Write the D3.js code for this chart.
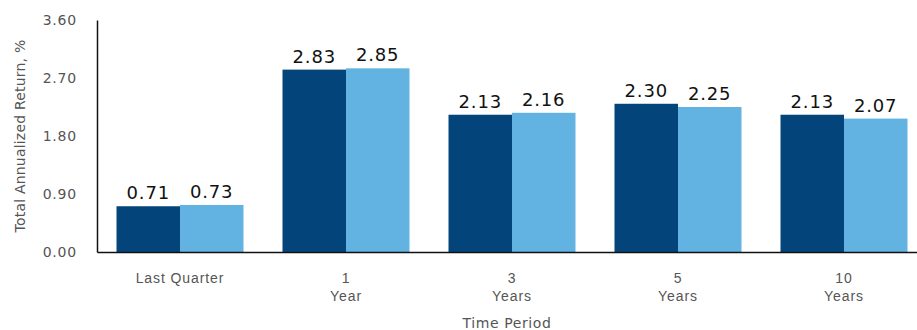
<!DOCTYPE html>
<html><head><meta charset="utf-8">
<script src="https://cdn.jsdelivr.net/npm/d3@7"></script>
<style>body{margin:0;background:#fff}svg{display:block;font-family:"DejaVu Sans",sans-serif}</style>
</head><body><svg id="c" width="917" height="330"></svg>
<script>
const categories = [["Last Quarter"], ["1","Year"], ["3","Years"], ["5","Years"], ["10","Years"]];
const seriesA = [0.71, 2.83, 2.13, 2.30, 2.13];
const seriesB = [0.73, 2.85, 2.16, 2.25, 2.07];
const yTicks = [0, 0.9, 1.8, 2.7, 3.6];
const colors = ["#03457a", "#62b2e2"];

const svg = d3.select("#c");
const x0 = 97, y0 = 252, yTop = 20;
const keys = categories.map((c,i)=>i);
const x = d3.scaleBand().domain(keys).range([x0, 927]).paddingInner(0.235).paddingOuter(0.1175);
const x1 = d3.scaleBand().domain([0,1]).range([0, x.bandwidth()]);
const y = d3.scaleLinear().domain([0, 3.6]).range([y0, yTop]);

const series = [seriesA, seriesB];
series.forEach((s, si) => {
  svg.append("g").selectAll("rect").data(s).join("rect")
    .attr("x", (d,i)=>x(i)+x1(si))
    .attr("y", d=>y(d))
    .attr("width", x1.bandwidth())
    .attr("height", d=>y0-y(d))
    .attr("fill", colors[si]);
  svg.append("g").selectAll("text").data(s).join("text")
    .attr("x", (d,i)=>x(i)+x1(si)+x1.bandwidth()/2)
    .attr("y", d=>y(d)-7)
    .attr("text-anchor","middle")
    .attr("font-size", 18)
    .attr("letter-spacing", 0.8)
    .attr("fill","#111")
    .text(d=>d.toFixed(2));
});

// y axis
const yAxis = d3.axisLeft(y).tickValues(yTicks).tickFormat(d3.format(".2f")).tickSize(0).tickPadding(20);
const gy = svg.append("g").attr("transform",`translate(${x0},0)`).call(yAxis);
gy.select(".domain").attr("stroke","#111").attr("stroke-width",1.5);
gy.selectAll("text").attr("font-size",14).attr("letter-spacing",0.8).attr("fill","#555").attr("font-family","DejaVu Sans, sans-serif");

// x axis
const xAxis = d3.axisBottom(x).tickSize(0).tickFormat(()=>"");
const gx = svg.append("g").attr("transform",`translate(0,${y0})`).call(xAxis);
gx.select(".domain").attr("stroke","#111").attr("stroke-width",1.5);
gx.selectAll(".tick").each(function(d){
  const t = d3.select(this).append("text").attr("fill","#555").attr("font-size",14)
    .attr("letter-spacing",0.9).attr("text-anchor","middle");
  categories[d].forEach((line, li)=>{
    t.append("tspan").attr("x",0).attr("y", 31 + li*18).text(line);
  });
});

svg.append("text").attr("x", 507).attr("y", 328).attr("text-anchor","middle")
  .attr("font-size",14).attr("letter-spacing",0.6).attr("fill","#555").text("Time Period");
svg.append("text").attr("transform",`translate(25,${(y0+yTop)/2}) rotate(-90)`).attr("text-anchor","middle")
  .attr("font-size",14).attr("letter-spacing",0.2).attr("fill","#555").text("Total Annualized Return, %");
</script></body></html>
